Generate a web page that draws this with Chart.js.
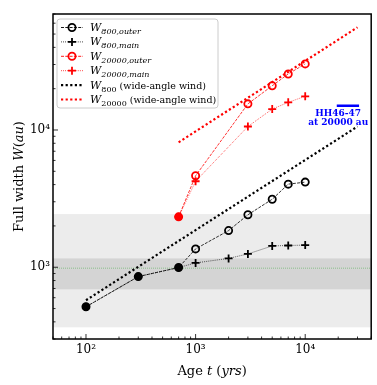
<!DOCTYPE html>
<html>
<head>
<meta charset="utf-8">
<script src="https://cdn.jsdelivr.net/npm/chart.js@4.4.0/dist/chart.umd.min.js"></script>
<style>
  html, body { margin: 0; padding: 0; background: #fff; }
  #wrap { width: 377px; height: 385px; }
</style>
</head>
<body>
<div id="wrap"><canvas id="widthChart" width="377" height="385"></canvas></div>
<script>
// ages (yrs) and full widths (au)
const ages800 = [100, 300, 700, 1000, 2000, 3000, 5000, 7000, 10000];
const w800Outer = [515, 855, 995, 1360, 1850, 2410, 3130, 4030, 4170];
const w800Main = [515, 855, 995, 1075, 1160, 1250, 1430, 1440, 1450];

const ages20000 = [700, 1000, 3000, 5000, 7000, 10000];
const w20000Outer = [2330, 4640, 15500, 21000, 25600, 30300];
const w20000Main = [2330, 4230, 10600, 14200, 15900, 17600];

// wide-angle wind predictions (straight in log-log)
const windAges800 = [100, 30000];
const w800Wind = [575, 10600];
const windAges20000 = [700, 30000];
const w20000Wind = [8130, 56000];

// HH46-47 marker
const hhAges = [19400, 31000];
const hhWidth = [15000, 15000];
const hhLabel = ["HH46-47", "at 20000 au"];

// shaded ranges and reference width
const lightBand = [365, 2440];
const darkBand = [690, 1160];
const refWidth = 985;

const xRange = [50, 40000];
const yRange = [300, 70000];

const SERIF = '"DejaVu Serif", serif';
const sup = { "2": "\u00B2", "3": "\u00B3", "4": "\u2074" };

function pts(xs, ys) {
  return xs.map((x, i) => ({ x: x, y: ys[i] }));
}

function isDecade(v) {
  const l = Math.log10(v);
  return Math.abs(l - Math.round(l)) < 1e-9;
}

function powLabel(v) {
  if (!isDecade(v)) return "";
  return "10" + sup[String(Math.round(Math.log10(v)))];
}

// draw a run of text pieces with different fonts / offsets
function drawRich(ctx, parts, x, y, align) {
  let total = 0;
  parts.forEach(p => { ctx.font = p.f; total += ctx.measureText(p.t).width; });
  let cx = align === "center" ? x - total / 2 : x;
  ctx.textAlign = "left";
  ctx.textBaseline = "alphabetic";
  parts.forEach(p => {
    ctx.font = p.f;
    ctx.fillText(p.t, cx, y + (p.dy || 0));
    cx += ctx.measureText(p.t).width;
  });
}

function drawMarker(ctx, kind, x, y, color, filled) {
  ctx.save();
  ctx.strokeStyle = color;
  ctx.fillStyle = color;
  ctx.lineWidth = 1.8;
  ctx.setLineDash([]);
  ctx.beginPath();
  if (kind === "circle") {
    ctx.arc(x, y, 3.6, 0, Math.PI * 2);
    if (filled) ctx.fill();
    ctx.stroke();
  } else {
    ctx.moveTo(x - 4, y); ctx.lineTo(x + 4, y);
    ctx.moveTo(x, y - 4); ctx.lineTo(x, y + 4);
    ctx.stroke();
  }
  ctx.restore();
}

const legendRows = [
  { w: "800,outer", color: "#000", dash: [3, 1.3], lw: 0.9, marker: "circle" },
  { w: "800,main", color: "#000", dash: [0.8, 1.3], lw: 0.9, marker: "plus" },
  { w: "20000,outer", color: "#ff0000", dash: [3, 1.3], lw: 0.9, marker: "circle" },
  { w: "20000,main", color: "#ff0000", dash: [0.8, 1.3], lw: 0.9, marker: "plus" },
  { w: "800", color: "#000", dash: [2.2, 2.4], lw: 2.2, wind: true },
  { w: "20000", color: "#ff0000", dash: [2.2, 2.4], lw: 2.2, wind: true }
];

const decor = {
  id: "decor",
  beforeDatasetsDraw(chart) {
    const { ctx, chartArea: a, scales: { y } } = chart;
    ctx.save();
    const band = (r, c) => {
      const t = y.getPixelForValue(r[1]);
      const b = y.getPixelForValue(r[0]);
      ctx.fillStyle = c;
      ctx.fillRect(a.left, t, a.right - a.left, b - t);
    };
    band(lightBand, "#ececec");
    band(darkBand, "#d4d4d4");
    const gy = y.getPixelForValue(refWidth);
    ctx.strokeStyle = "rgba(60,170,60,0.6)";
    ctx.lineWidth = 0.8;
    ctx.setLineDash([1, 1]);
    ctx.beginPath();
    ctx.moveTo(a.left, gy);
    ctx.lineTo(a.right, gy);
    ctx.stroke();
    ctx.restore();
  },
  afterDraw(chart) {
    const { ctx, chartArea: a, scales: { x, y } } = chart;
    ctx.save();
    // inward ticks on bottom and left
    ctx.strokeStyle = "#000";
    ctx.lineWidth = 0.8;
    ctx.beginPath();
    for (let d = 1; d <= 4; d++) {
      for (let m = 1; m <= 9; m++) {
        const v = m * Math.pow(10, d);
        const len = m === 1 ? 5 : 2.5;
        if (v >= xRange[0] && v <= xRange[1]) {
          const px = x.getPixelForValue(v);
          ctx.moveTo(px, a.bottom);
          ctx.lineTo(px, a.bottom - len);
        }
        if (v >= yRange[0] && v <= yRange[1]) {
          const py = y.getPixelForValue(v);
          ctx.moveTo(a.left, py);
          ctx.lineTo(a.left + len, py);
        }
      }
    }
    ctx.stroke();
    // frame
    ctx.lineWidth = 1.5;
    ctx.strokeRect(a.left, a.top, a.right - a.left, a.bottom - a.top);

    // axis titles
    ctx.fillStyle = "#000";
    const reg = "13px " + SERIF, it = "italic 13px " + SERIF;
    drawRich(ctx, [
      { t: "Age ", f: reg }, { t: "t", f: it }, { t: " (", f: reg },
      { t: "yrs", f: it }, { t: ")", f: reg }
    ], (a.left + a.right) / 2, 375, "center");
    ctx.save();
    ctx.translate(23, (a.top + a.bottom) / 2);
    ctx.rotate(-Math.PI / 2);
    drawRich(ctx, [
      { t: "Full width ", f: reg }, { t: "W", f: it }, { t: "(", f: reg },
      { t: "au", f: it }, { t: ")", f: reg }
    ], 0, 0, "center");
    ctx.restore();

    // HH46-47 label
    ctx.fillStyle = "#0000ff";
    ctx.font = "bold 9px " + SERIF;
    ctx.textAlign = "center";
    ctx.textBaseline = "middle";
    const lx = x.getPixelForValue(20000);
    ctx.fillText(hhLabel[0], lx, y.getPixelForValue(13100));
    ctx.fillText(hhLabel[1], lx, y.getPixelForValue(11300));

    // legend
    const bx = 57, by = 19, bw = 161, bh = 89;
    ctx.fillStyle = "rgba(255,255,255,0.85)";
    ctx.strokeStyle = "#cccccc";
    ctx.lineWidth = 1;
    ctx.beginPath();
    ctx.roundRect(bx, by, bw, bh, 3);
    ctx.fill();
    ctx.stroke();
    legendRows.forEach((r, i) => {
      const ry = 27.5 + i * 14.4;
      ctx.save();
      ctx.strokeStyle = r.color;
      ctx.lineWidth = r.lw;
      ctx.setLineDash(r.dash);
      ctx.beginPath();
      ctx.moveTo(61, ry);
      ctx.lineTo(83, ry);
      ctx.stroke();
      ctx.restore();
      if (r.marker) drawMarker(ctx, r.marker, 72, ry, r.color, false);
      ctx.fillStyle = "#000";
      const parts = [{ t: "W", f: "italic 11px " + SERIF, dy: 0 }];
      if (r.wind) {
        parts.push({ t: r.w, f: "8px " + SERIF, dy: 3 });
        parts.push({ t: " (wide-angle wind)", f: "9.5px " + SERIF, dy: 0 });
      } else {
        parts.push({ t: r.w, f: "italic 8px " + SERIF, dy: 3 });
      }
      drawRich(ctx, parts, 90, ry + 3.5, "left");
    });
    ctx.restore();
  }
};

const filledWhere = (a, b, color) => ctx =>
  a[ctx.dataIndex] === b[ctx.dataIndex] ? color : "rgba(0,0,0,0)";

new Chart(document.getElementById("widthChart"), {
  type: "line",
  data: {
    datasets: [
      {
        label: "W800,main",
        data: pts(ages800, w800Main),
        borderColor: "#000",
        borderWidth: 0.8,
        borderDash: [0.8, 1.3],
        pointStyle: "cross",
        pointRadius: 4,
        pointBorderWidth: 1.8,
        pointBorderColor: "#000"
      },
      {
        label: "W800,outer",
        data: pts(ages800, w800Outer),
        borderColor: "#000",
        borderWidth: 0.8,
        borderDash: [3, 1.3],
        pointStyle: "circle",
        pointRadius: 3.6,
        pointBorderWidth: 1.8,
        pointBorderColor: "#000",
        pointBackgroundColor: filledWhere(w800Outer, w800Main, "#000")
      },
      {
        label: "W20000,main",
        data: pts(ages20000, w20000Main),
        borderColor: "#ff0000",
        borderWidth: 0.8,
        borderDash: [0.8, 1.3],
        pointStyle: "cross",
        pointRadius: 4,
        pointBorderWidth: 1.8,
        pointBorderColor: "#ff0000"
      },
      {
        label: "W20000,outer",
        data: pts(ages20000, w20000Outer),
        borderColor: "#ff0000",
        borderWidth: 0.8,
        borderDash: [3, 1.3],
        pointStyle: "circle",
        pointRadius: 3.6,
        pointBorderWidth: 1.8,
        pointBorderColor: "#ff0000",
        pointBackgroundColor: filledWhere(w20000Outer, w20000Main, "#ff0000")
      },
      {
        label: "HH46-47",
        data: pts(hhAges, hhWidth),
        borderColor: "#0000ff",
        borderWidth: 2.5,
        pointRadius: 0
      },
      {
        label: "W800 wind",
        data: pts(windAges800, w800Wind),
        borderColor: "#000",
        borderWidth: 2.2,
        borderDash: [2.2, 2.4],
        pointRadius: 0
      },
      {
        label: "W20000 wind",
        data: pts(windAges20000, w20000Wind),
        borderColor: "#ff0000",
        borderWidth: 2.2,
        borderDash: [2.2, 2.4],
        pointRadius: 0
      }
    ]
  },
  options: {
    responsive: false,
    animation: false,
    layout: { padding: { left: 0, top: 14, right: 5, bottom: 0 } },
    elements: { line: { tension: 0, fill: false } },
    plugins: { legend: { display: false }, tooltip: { enabled: false } },
    scales: {
      x: {
        type: "logarithmic",
        min: xRange[0],
        max: xRange[1],
        grid: { display: false, drawTicks: false },
        border: { display: false },
        afterFit(s) { s.height = 46; },
        ticks: {
          autoSkip: false,
          maxRotation: 0,
          padding: 4,
          color: "#000",
          font: { family: SERIF, size: 12 },
          callback: v => powLabel(v)
        }
      },
      y: {
        type: "logarithmic",
        min: yRange[0],
        max: yRange[1],
        grid: { display: false, drawTicks: false },
        border: { display: false },
        afterFit(s) { s.width = 53; },
        ticks: {
          autoSkip: false,
          padding: 3,
          color: "#000",
          font: { family: SERIF, size: 12 },
          callback: v => powLabel(v)
        }
      }
    }
  },
  plugins: [decor]
});
</script>
</body>
</html>
